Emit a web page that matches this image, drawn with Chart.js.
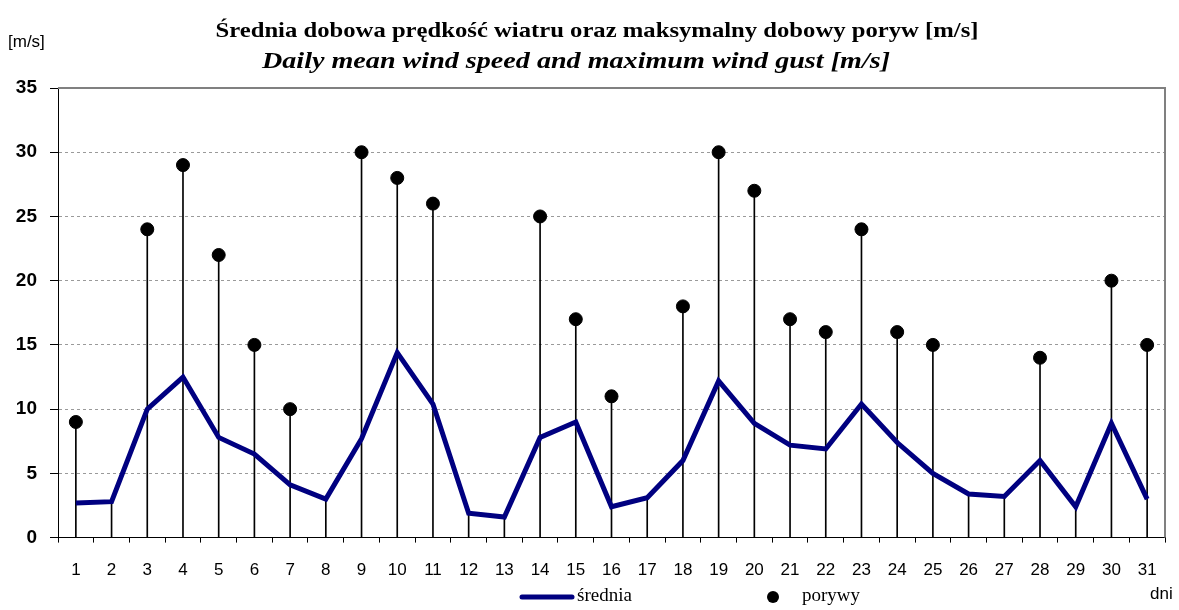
<!DOCTYPE html>
<html>
<head>
<meta charset="utf-8">
<script src="https://cdn.jsdelivr.net/npm/chart.js@4"></script>
<style>
  html, body { margin: 0; padding: 0; background: #fff; }
  #wrap { width: 1179px; height: 610px; }
</style>
</head>
<body>
<div id="wrap"><canvas id="wind-chart" width="1179" height="610"></canvas></div>
<script>
const days = Array.from({ length: 31 }, (_, i) => String(i + 1));
const meanSpeed = [2.7, 2.8, 10.0, 12.5, 7.8, 6.5, 4.1, 3.0, 7.7, 14.4,
                   10.4, 1.9, 1.6, 7.8, 9.0, 2.4, 3.1, 6.0, 12.2, 8.9,
                   7.2, 6.9, 10.4, 7.4, 5.0, 3.4, 3.2, 6.0, 2.4, 8.9, 3.0];
const gusts = [9, null, 24, 29, 22, 15, 10, null, 30, 28,
               26, null, null, 25, 17, 11, null, 18, 30, 27,
               17, 16, 24, 16, 15, null, null, 14, null, 20, 15];
const yTicks = [0, 5, 10, 15, 20, 25, 30, 35];

// drop lines go from the axis up to the higher of the two values
const dropLines = meanSpeed.map((m, i) => Math.max(m, gusts[i] ?? 0));

const NAVY = '#000080';
const SERIF = '"Liberation Serif", "Times New Roman", serif';
const SANS = '"Liberation Sans", Arial, sans-serif';

// the original title font runs wider than Liberation Serif, so stretch it to width
function fitText(ctx, text, cx, y, width) {
    const w = ctx.measureText(text).width;
    ctx.save();
    ctx.translate(cx, y);
    ctx.scale(width / w, 1);
    ctx.fillText(text, 0, 0);
    ctx.restore();
}

const extras = {
    id: 'extras',
    afterDraw(chart) {
        const { ctx, chartArea } = chart;
        ctx.save();
        // plot frame (top / right)
        ctx.strokeStyle = '#808080';
        ctx.lineWidth = 2;
        ctx.beginPath();
        ctx.moveTo(chartArea.left, chartArea.top);
        ctx.lineTo(chartArea.right, chartArea.top);
        ctx.lineTo(chartArea.right, chartArea.bottom);
        ctx.stroke();

        ctx.fillStyle = '#000';
        ctx.textAlign = 'center';
        ctx.textBaseline = 'alphabetic';
        ctx.font = 'bold 22px ' + SERIF;
        fitText(ctx, 'Średnia dobowa prędkość wiatru oraz maksymalny dobowy poryw [m/s]', 597, 37, 763);
        ctx.font = 'italic bold 23px ' + SERIF;
        fitText(ctx, 'Daily mean wind speed and maximum wind gust [m/s]', 576, 68, 628);

        ctx.font = '17px ' + SANS;
        ctx.textBaseline = 'middle';
        ctx.textAlign = 'left';
        ctx.fillText('[m/s]', 8, 42);
        ctx.fillText('dni', 1150, 594);

        // legend
        ctx.strokeStyle = NAVY;
        ctx.lineWidth = 5;
        ctx.lineCap = 'round';
        ctx.beginPath();
        ctx.moveTo(522, 597);
        ctx.lineTo(572, 597);
        ctx.stroke();
        ctx.font = '19px ' + SERIF;
        ctx.fillText('średnia', 577, 596);
        ctx.beginPath();
        ctx.arc(773, 597, 6, 0, Math.PI * 2);
        ctx.fill();
        ctx.fillText('porywy', 802, 596);
        ctx.restore();
    }
};

new Chart(document.getElementById('wind-chart'), {
    type: 'bar',
    data: {
        labels: days,
        datasets: [
            {
                type: 'line',
                label: 'średnia',
                data: meanSpeed,
                borderColor: NAVY,
                borderWidth: 5,
                pointRadius: 0,
                tension: 0,
                order: 2
            },
            {
                type: 'line',
                label: 'porywy',
                data: gusts,
                showLine: false,
                pointRadius: 6.5,
                pointBackgroundColor: '#000',
                pointBorderColor: '#000',
                order: 1
            },
            {
                label: 'drop',
                data: dropLines,
                backgroundColor: '#000',
                barThickness: 1,
                order: 3
            }
        ]
    },
    options: {
        responsive: false,
        animation: false,
        layout: { padding: { left: 0, right: 14, top: 88, bottom: 11 } },
        plugins: {
            legend: { display: false },
            tooltip: { enabled: false },
            title: { display: false }
        },
        scales: {
            x: {
                grid: { drawOnChartArea: false, drawTicks: true, tickLength: 5, tickColor: '#000', offset: true },
                border: { color: '#000', width: 1 },
                ticks: {
                    color: '#000',
                    padding: 18,
                    maxRotation: 0,
                    autoSkip: false,
                    font: { family: SANS, size: 17 }
                }
            },
            y: {
                min: 0,
                max: 35,
                afterFit(scale) { scale.width = 58; },
                afterBuildTicks(scale) { scale.ticks = yTicks.map(v => ({ value: v })); },
                grid: {
                    color: '#9a9a9a',
                    tickColor: '#000',
                    tickLength: 8,
                    drawTicks: true
                },
                border: { color: '#000', width: 1, dash: [3, 3] },
                ticks: {
                    color: '#000',
                    padding: 13,
                    font: { family: SANS, size: 19, weight: 'bold' }
                }
            }
        }
    },
    plugins: [extras]
});
</script>
</body>
</html>
